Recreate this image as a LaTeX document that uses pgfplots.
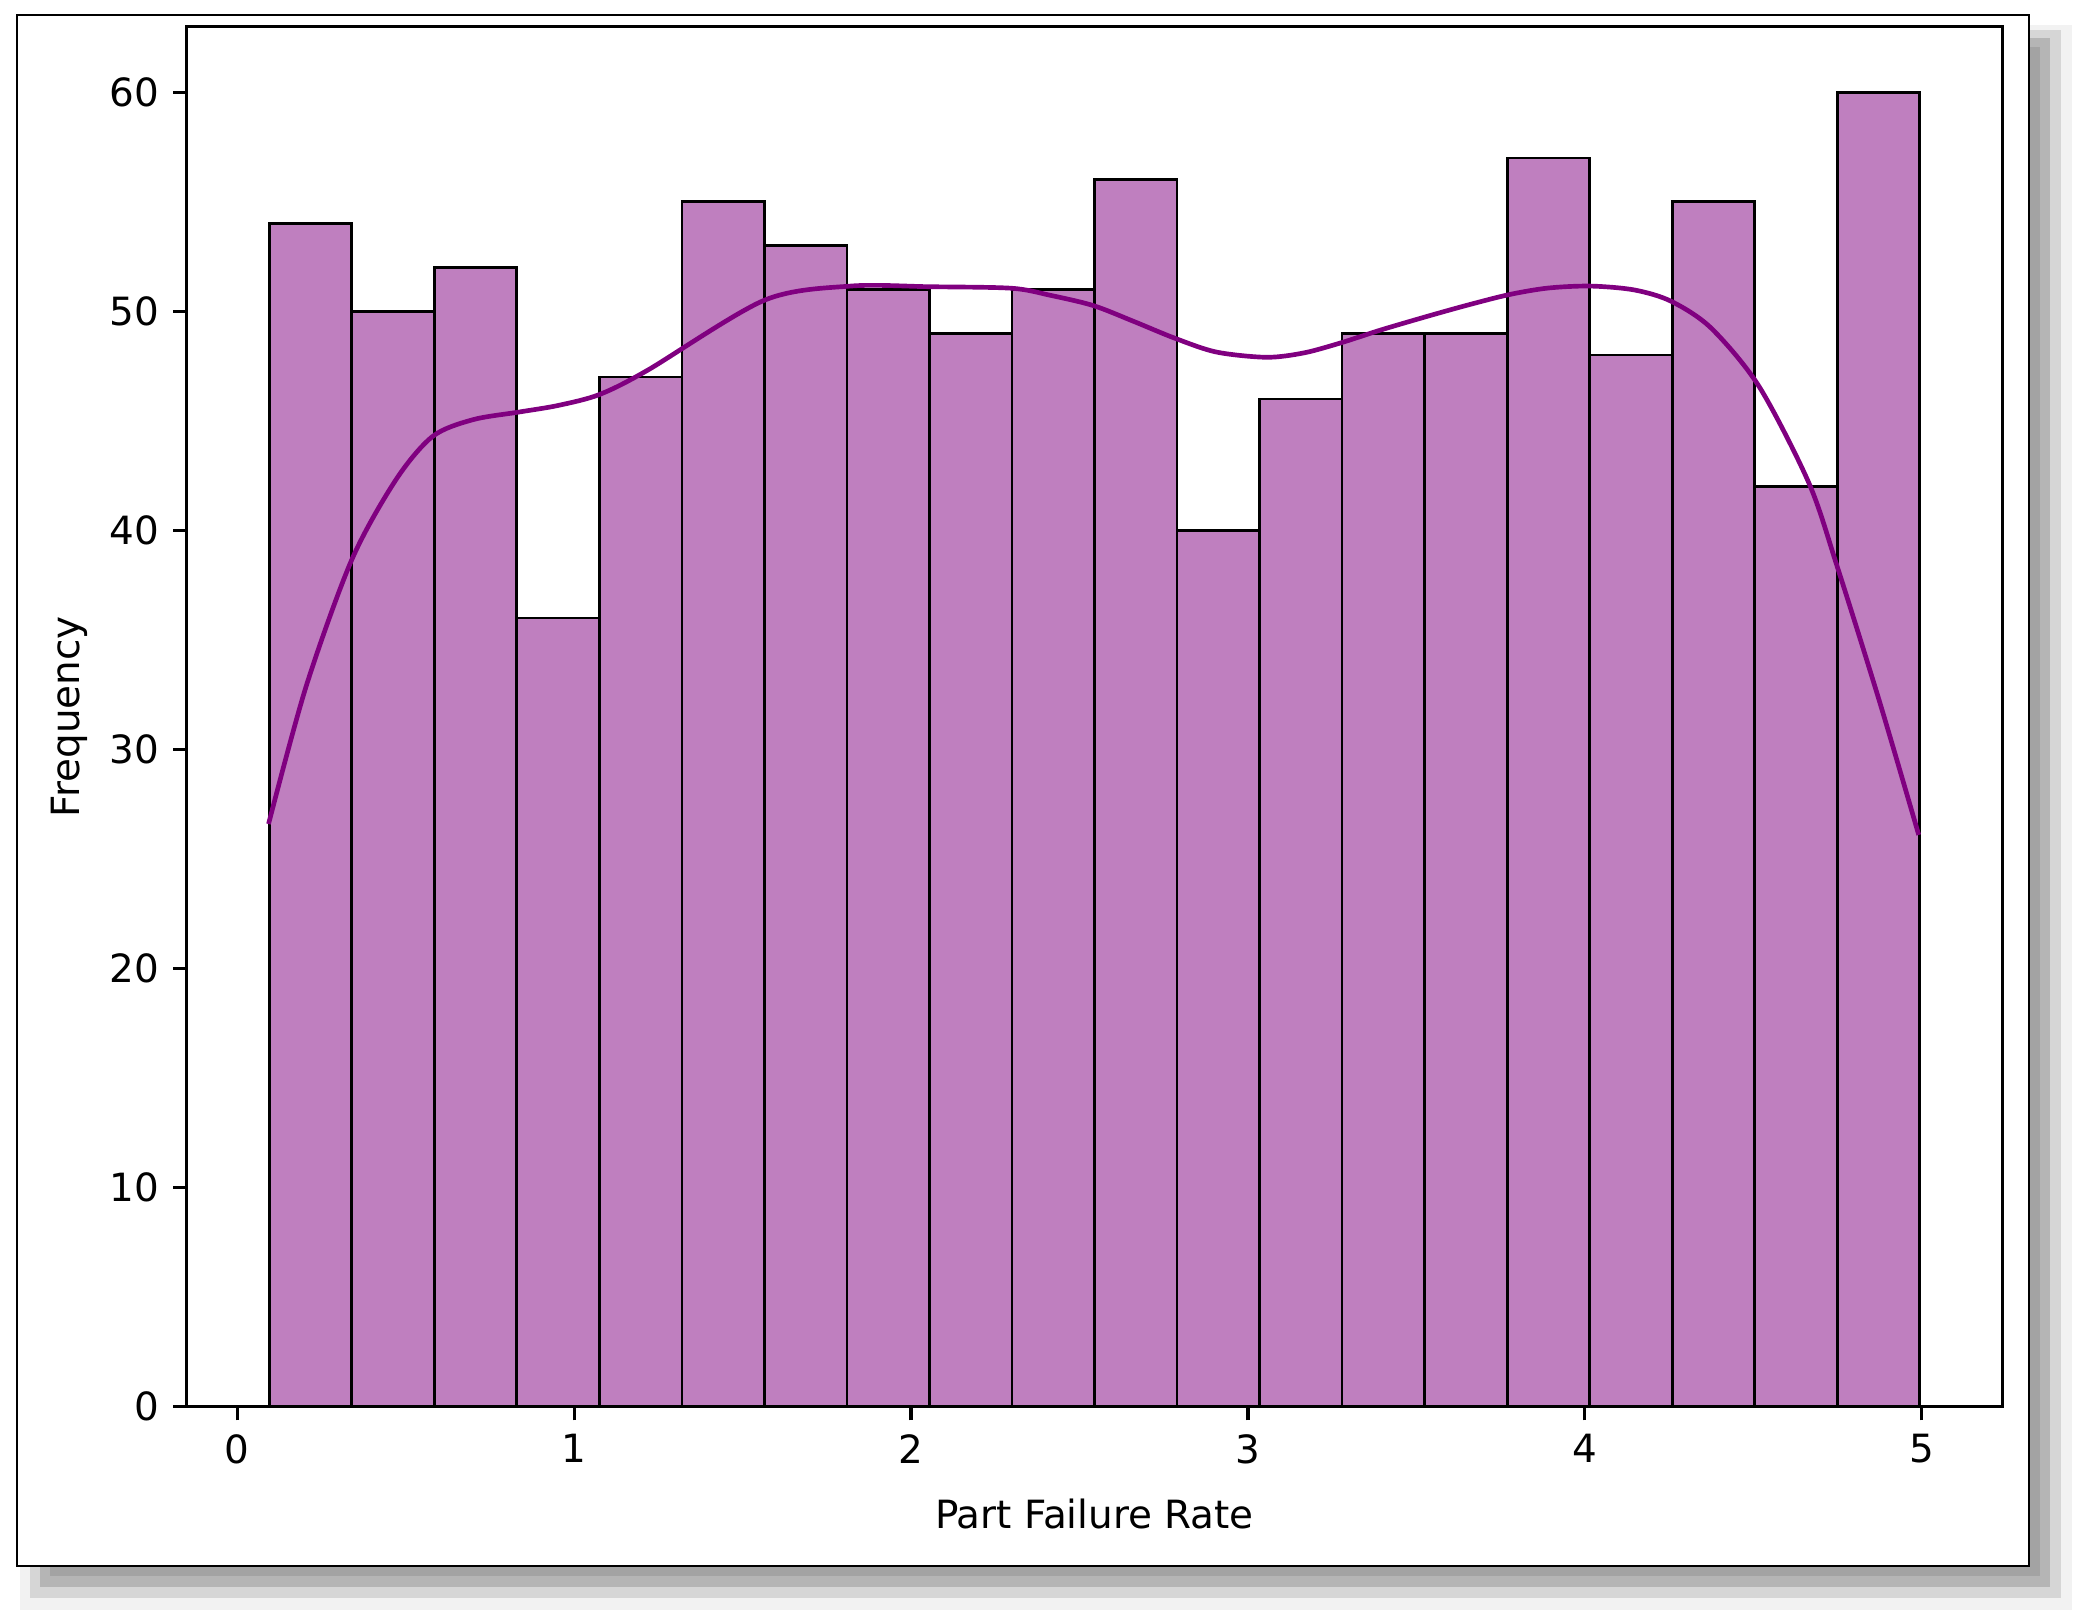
\documentclass[border=0pt]{standalone}
\usepackage{pgfplots}
\pgfplotsset{compat=1.18}
\usepackage{fontspec}
\setmainfont{DejaVu Sans}
\definecolor{barfill}{HTML}{BF7FBF}
\definecolor{kde}{HTML}{800080}
\definecolor{sh1}{HTML}{F2F2F2}
\definecolor{sh2}{HTML}{D6D6D6}
\definecolor{sh3}{HTML}{B5B5B5}
\definecolor{sh4}{HTML}{A3A3A3}
\begin{document}
\begin{tikzpicture}
\useasboundingbox (0pt,0pt) rectangle (535.3pt,416.8pt);
\fill[white] (0pt,0pt) rectangle (535.3pt,416.8pt);
\fill[sh1] (5.1pt,2.9pt) rectangle (532.7pt,410.4pt);
\fill[sh2] (7.7pt,6.0pt) rectangle (529.9pt,409.1pt);
\fill[sh3] (10.3pt,8.8pt) rectangle (527.1pt,407.0pt);
\fill[sh4] (12.9pt,11.6pt) rectangle (524.5pt,404.7pt);
\filldraw[fill=white, draw=black, line width=0.7pt] (4.37pt,14.2pt) rectangle (521.7pt,412.9pt);
\begin{axis}[
  at={(48.0pt,55.1pt)}, anchor=south west,
  scale only axis, width=466.8pt, height=354.9pt,
  xmin=-0.15, xmax=5.239, ymin=0, ymax=63,
  xtick={0,1,2,3,4,5}, ytick={0,10,20,30,40,50,60},
  tick align=outside, tick pos=left,
  major tick length=3.5pt,
  every tick/.style={black, line width=0.8pt},
  axis line style={line width=0.8pt},
  /pgf/number format/assume math mode=true,
  xlabel={Part Failure Rate}, ylabel={Frequency},
  xlabel style={at={(axis description cs:0.5,-0.0879)}, anchor=base},
  ylabel style={at={(axis description cs:-0.0649,0.5)}, anchor=center},
  clip=true,
]
\addplot[ybar interval, fill=barfill, draw=black, line width=0.7pt] coordinates {
(0.0950,54) (0.3400,50) (0.5849,52) (0.8299,36) (1.0748,47)
(1.3198,55) (1.5647,53) (1.8097,51) (2.0546,49) (2.2996,51)
(2.5445,56) (2.7895,40) (3.0344,46) (3.2794,49) (3.5243,49)
(3.7693,57) (4.0142,48) (4.2592,55) (4.5041,42) (4.7491,60)
(4.9940,60)
};
\addplot[kde, line width=1.2pt, smooth, mark=none] coordinates {
(0.093,26.6) (0.2045,32.88) (0.340,38.66) (0.471,42.31) (0.580,44.29)
(0.699,45.05) (0.836,45.4) (0.952,45.7)
(1.075,46.2) (1.217,47.3) (1.564,50.5) (1.820,51.15)
(2.057,51.12) (2.299,51.05) (2.413,50.73) (2.541,50.26) (2.659,49.55)
(2.783,48.77) (2.906,48.14) (3.055,47.90) (3.166,48.1) (3.276,48.56)
(3.393,49.14) (3.528,49.75) (3.649,50.27) (3.775,50.76) (3.891,51.06)
(4.017,51.15) (4.148,50.97) (4.257,50.45) (4.375,49.23) (4.517,46.57)
(4.665,42.16) (4.749,38.35) (4.873,32.27) (4.991,26.1)
};
\end{axis}
\end{tikzpicture}
\end{document}
